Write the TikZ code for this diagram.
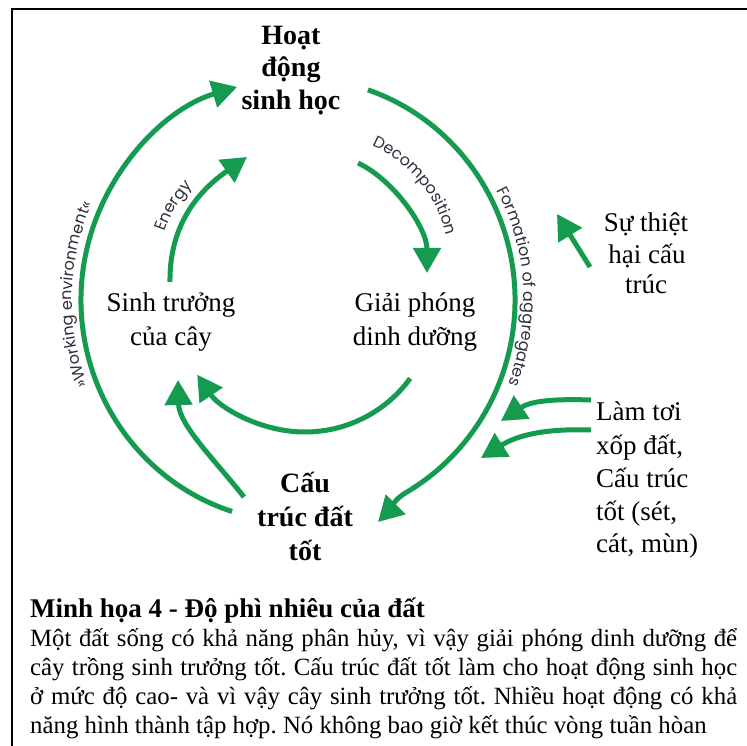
\documentclass[tikz,border=0pt]{standalone}
\usepackage{fontspec}
\setmainfont{Liberation Serif}
\newfontfamily\arcfont{Poppins}
\usetikzlibrary{arrows.meta,decorations.text}
\definecolor{leafgreen}{RGB}{20,155,80}
\definecolor{arcgray}{RGB}{50,45,60}
\newcommand\arclbl{\arcfont\fontsize{16}{16}\selectfont}
\newcommand\lblreg{\fontsize{27}{27}\selectfont}
\newcommand\lblbold{\fontsize{28}{28}\selectfont\bfseries}
\newcommand\capbody{\fontsize{24.8}{24.8}\selectfont}
\newcommand\captitle{\fontsize{27}{27}\selectfont\bfseries}
\frenchspacing
\begin{document}
\begin{tikzpicture}[x=1pt,y=1pt,
  flow/.style={draw=leafgreen, line width=5pt, -{Triangle[length=25pt,width=27pt]}},
  lblr/.style={inner sep=0pt, anchor=base, font=\lblreg},
  lblb/.style={inner sep=0pt, anchor=base, font=\lblbold},
  lbll/.style={inner sep=0pt, anchor=base west, font=\lblreg},
  capline/.style={inner sep=0pt, anchor=base west, font=\capbody},
  arctext/.style={decorate, decoration={text along path, text align=center, text color=arcgray, text format delimiters={|}{|}}}
]
\useasboundingbox (0,0) rectangle (747,-746);
\fill[white] (0,0) rectangle (747,-746);
% frame
\draw[line width=2pt] (12,-746) -- (12,-9) -- (747,-9);

% labels
\node[lblb] (hd1) at (291,-45) {Hoạt};
\node[lblb] (hd2) at (291,-77) {động};
\node[lblb] (hd3) at (291,-110) {sinh học};

\node[lblr] (st1) at (171,-311.5) {Sinh trưởng};
\node[lblr] (st2) at (171,-345) {của cây};

\node[lblr] (gp1) at (415,-311.5) {Giải phóng};
\node[lblr] (gp2) at (415,-345) {dinh dưỡng};

\node[lblr] (sth1) at (646,-231.5) {Sự thiệt};
\node[lblr] (sth2) at (647,-263) {hại cấu};
\node[lblr] (sth3) at (646,-293) {trúc};

\node[lbll] (lt1) at (596,-420) {Làm tơi};
\node[lbll] (lt2) at (596,-454) {xốp đất,};
\node[lbll] (lt3) at (596,-487) {Cấu trúc};
\node[lbll] (lt4) at (596,-520) {tốt (sét,};
\node[lbll] (lt5) at (596,-552) {cát, mùn)};

\node[lblb] (cd1) at (305,-492) {Cấu};
\node[lblb] (cd2) at (305,-526) {trúc đất};
\node[lblb] (cd3) at (305,-560) {tốt};

% connector end points
\coordinate (oLs) at ([shift={(298,-300)}]252.3:217 and 222);
\coordinate (oRs) at ([shift={(298,-300)}]71.2:217 and 222);
\coordinate (oRe) at (378,-522);
\coordinate (enS) at (170,-282);
\coordinate (enE) at (247,-157);
\coordinate (dcS) at (358,-163);
\coordinate (dcE) at (427,-273);
\coordinate (biS) at ([shift={(305,-302)}]-36:130);
\coordinate (csS) at (244,-497);
\coordinate (csE) at (178,-380);
\coordinate (dmS) at (590,-267);
\coordinate (dmE) at (557,-214);
\coordinate (l1S) at (591,-400);
\coordinate (l1E) at (501,-421);
\coordinate (l2S) at (591,-430);
\coordinate (l2E) at (481,-458);

% arrows
\draw[flow] (oLs) arc[start angle=252.3, end angle=106.3, x radius=217, y radius=222];
\draw[flow] (oRs) arc[start angle=71.2, end angle=-60, x radius=217, y radius=222] to[out=210, in=45] (oRe);
\draw[flow] (enS) .. controls (169,-215) and (210,-183) .. (enE);
\draw[flow] (dcS) .. controls (394,-180) and (427,-228) .. (dcE);
\draw[flow] (biS) arc[start angle=-36, end angle=-146, radius=130];
\draw[flow] (csS) .. controls (214,-459) and (179,-425) .. (csE);
\draw[flow] (dmS) -- (dmE);
\draw[flow] (l1S) to[out=178, in=34] (l1E);
\draw[flow] (l2S) to[out=178, in=32] (l2E);

% texts along arcs
\path[arctext, decoration={text={|\arclbl|»Working environment«}}]
  ([shift={(298,-300)}]207:226 and 231) arc[start angle=207, end angle=150, x radius=226, y radius=231];
\path[arctext, decoration={text={|\arclbl|Formation of aggregates}}]
  ([shift={(298,-300)}]32:226 and 231) arc[start angle=32, end angle=-25, x radius=226, y radius=231];
\path[arctext, decoration={text={|\arclbl|Energy}}]
  (161,-250) .. controls (163,-225) and (180,-195) .. (206,-173);
\path[arctext, decoration={text={|\arclbl|Decomposition}}]
  (362,-142) .. controls (402,-155) and (440,-192) .. (448,-246);

% caption
\node[inner sep=0pt, anchor=base west, font=\captitle] (cap) at (30,-617) {Minh họa 4 - Độ phì nhiêu của đất};
\node[capline] (c1) at (30,-646) {\hbox to 707pt{Một đất sống có khả năng phân hủy, vì vậy giải phóng dinh dưỡng để}};
\node[capline] (c2) at (30,-675) {\hbox to 707pt{cây trồng sinh trưởng tốt. Cấu trúc đất tốt làm cho hoạt động sinh học}};
\node[capline] (c3) at (30,-704) {\hbox to 707pt{ở mức độ cao- và vì vậy cây sinh trưởng tốt. Nhiều hoạt động có khả}};
\node[capline] (c4) at (30,-733) {năng hình thành tập hợp. Nó không bao giờ kết thúc vòng tuần hòan};
\end{tikzpicture}
\end{document}
